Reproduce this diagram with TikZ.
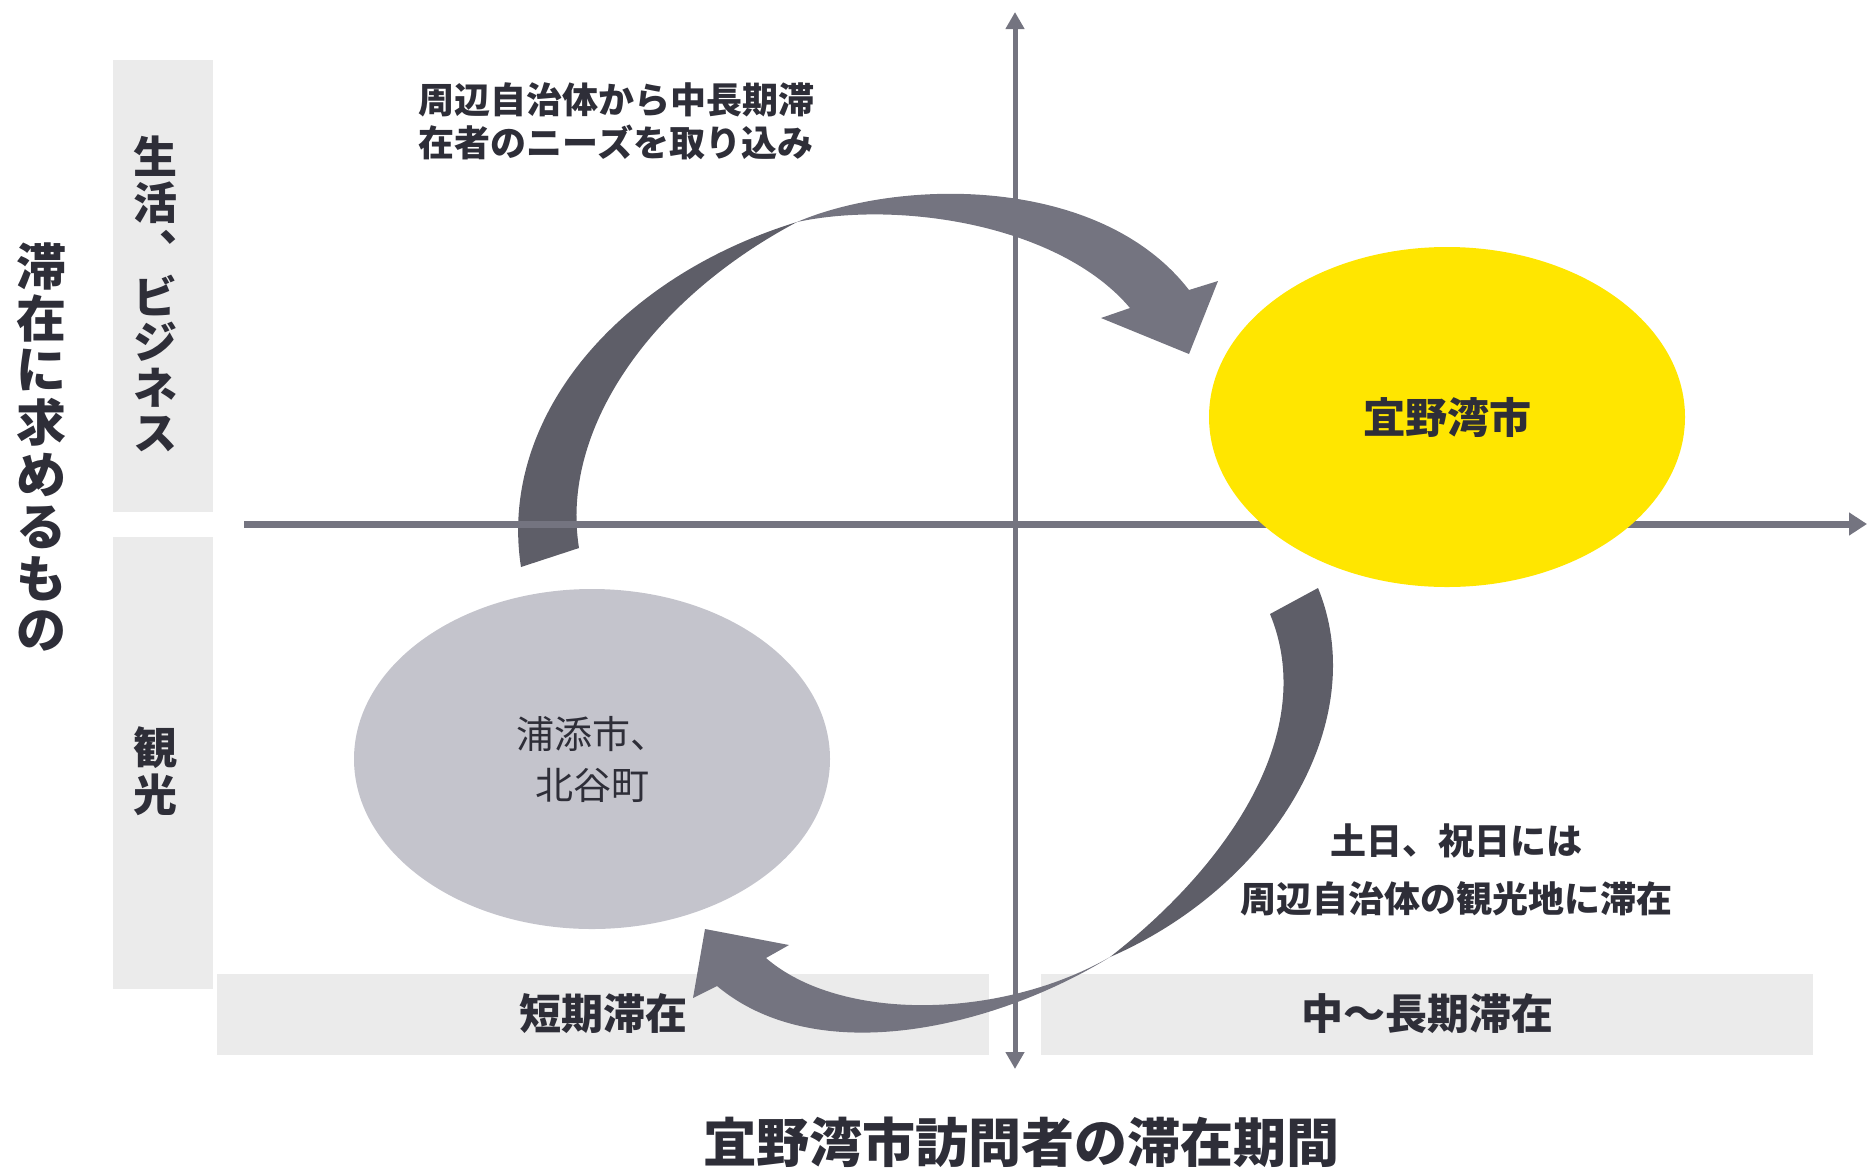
\documentclass[tikz,border=0pt]{standalone}
\usepackage{fontspec}
\setmainfont{Noto Sans CJK JP}
\usetikzlibrary{arrows.meta,shapes.geometric}
\definecolor{txt}{RGB}{46,46,56}
\definecolor{boxg}{RGB}{235,235,235}
\definecolor{adark}{RGB}{94,94,104}
\definecolor{alight}{RGB}{116,116,128}
\definecolor{axisc}{RGB}{116,116,128}
\definecolor{ellg}{RGB}{196,196,204}
\definecolor{yel}{RGB}{255,230,0}
\tikzset{
  bandbox/.style={fill=boxg, draw=none},
  lbl/.style={text=txt, inner sep=0pt, font=\bfseries\fontsize{18pt}{21.5pt}\selectfont, align=center},
  vch/.style={text=txt, inner sep=0pt, font=\bfseries\fontsize{22pt}{24pt}\selectfont},
  tch/.style={text=txt, inner sep=0pt, font=\bfseries\fontsize{25pt}{27pt}\selectfont},
  cat/.style={text=txt, inner sep=0pt, font=\bfseries\fontsize{21pt}{24pt}\selectfont},
  axisline/.style={draw=axisc},
}
\begin{document}
\begin{tikzpicture}[x=0.5pt,y=-0.5pt]
\useasboundingbox (0,0) rectangle (1868,1168);
% category boxes
\fill[bandbox] (113,60) rectangle (213,512);
\fill[bandbox] (113,537) rectangle (213,989);
\fill[bandbox] (217,974) rectangle (989,1055);
\fill[bandbox] (1041,974) rectangle (1813,1055);
% top curved arrow
\fill[adark] (521,567) .. controls (498,420) and (615,278) .. (797,222)
  .. controls (650,300) and (560,430) .. (579,548) -- cycle;
\fill[alight] (797,222) .. controls (900,178) and (1100,175) .. (1189,290)
  -- (1218,281) -- (1189,354) -- (1101,318) -- (1130,308)
  .. controls (1060,225) and (900,200) .. (797,222) -- cycle;
% bottom curved arrow
\fill[adark] (1318,588) .. controls (1372,720) and (1275,885) .. (1110,957)
  .. controls (1232,862) and (1318,730) .. (1270,614) -- cycle;
\fill[alight] (1110,957) .. controls (1000,1025) and (820,1072) .. (717,986)
  -- (693,998) -- (705,929) -- (789,945) -- (766,958)
  .. controls (840,1022) and (1000,1020) .. (1110,957) -- cycle;
% axes
\coordinate (vtop) at (1015,12);
\coordinate (vbot) at (1015,1069);
\coordinate (hl) at (244,524);
\coordinate (hr) at (1867,524);
\draw[axisline, line width=2.5pt, {Triangle[length=8.5pt,width=9pt]}-{Triangle[length=8.5pt,width=9pt]}] (vbot) -- (vtop);
\draw[axisline, line width=3.5pt, -{Triangle[length=9pt,width=11pt]}] (hl) -- (hr);
% ellipses
\node[ellipse, fill=yel, minimum width=238pt, minimum height=170pt, inner sep=0pt,
  text=txt, font=\bfseries\fontsize{21pt}{24pt}\selectfont] (gw) at (1447,417) {宜野湾市};
\node[ellipse, fill=ellg, minimum width=238pt, minimum height=170pt, inner sep=0pt,
  text=txt, align=center, font=\fontsize{19pt}{25.5pt}\selectfont] (ur) at (592,759) {浦添市、\\北谷町};
% labels
\node[lbl] (toplbl) at (616,121) {周辺自治体から中長期滞\\在者のニーズを取り込み};
\node[lbl, font=\bfseries\fontsize{18pt}{29pt}\selectfont] (botlbl) at (1456,870) {土日、祝日には\\周辺自治体の観光地に滞在};
\node[cat] (short) at (603,1014) {短期滞在};
\node[cat] (long) at (1427,1014) {中～長期滞在};
\node[text=txt, inner sep=0pt, font=\bfseries\fontsize{26.5pt}{28pt}\selectfont] (xtitle) at (1021,1142) {宜野湾市訪問者の滞在期間};
% vertical texts
\foreach \c [count=\i] in {滞,在,に,求,め,る,も,の}
  \node[tch] (yt\i) at (42,{266+(\i-1)*52.2}) {\c};
\foreach \c [count=\i] in {生,活,︑,ビ,ジ,ネ,ス}
  \node[vch] (va\i) at (155,{156+(\i-1)*46.4}) {\c};
\foreach \c [count=\i] in {観,光}
  \node[vch] (vb\i) at (155,{748+(\i-1)*47}) {\c};
\end{tikzpicture}
\end{document}
